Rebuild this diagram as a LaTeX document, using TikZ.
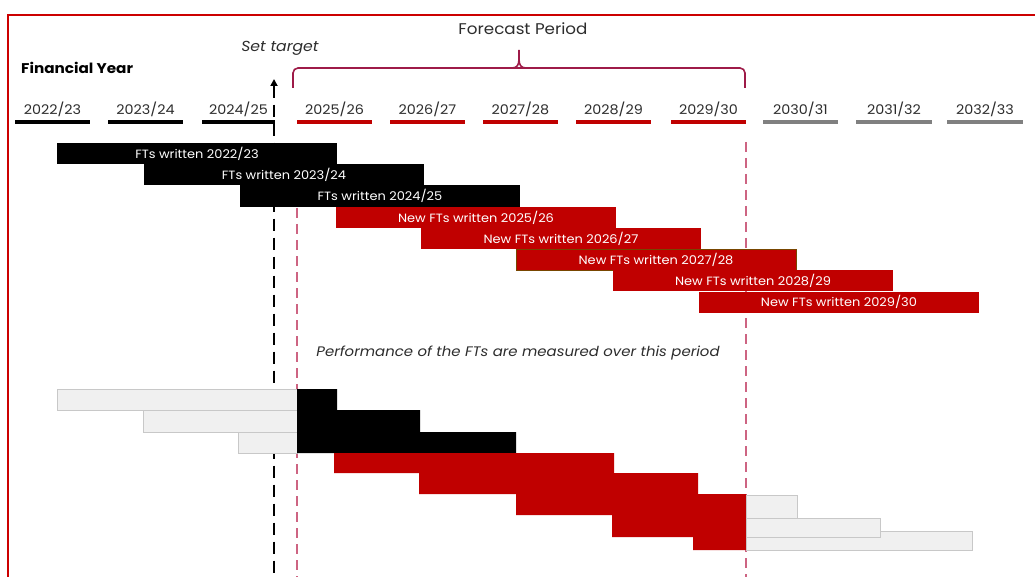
\documentclass[tikz,border=0pt]{standalone}
\usepackage{fontspec}
\setmainfont{Poppins}[FakeStretch=1.08]
\usetikzlibrary{arrows.meta}
\definecolor{ftred}{RGB}{192,0,0}
\definecolor{framered}{RGB}{204,0,0}
\definecolor{greyline}{RGB}{128,128,128}
\definecolor{ghostfill}{RGB}{240,240,240}
\definecolor{ghostdraw}{RGB}{200,200,200}
\definecolor{bracecol}{RGB}{158,27,72}
\definecolor{pinkdash}{RGB}{205,100,130}
\definecolor{textgrey}{RGB}{45,45,45}
\definecolor{olive}{RGB}{120,70,0}
\begin{document}
\begin{tikzpicture}[x=1pt,y=-1pt,
  yearlabel/.style={font=\fontsize{13.3}{15}\selectfont, text=textgrey, inner sep=0pt},
  yearline/.style={line width=4pt},
  bar/.style={anchor=north west, minimum width=280pt, minimum height=21.2pt, inner sep=0pt, outer sep=0pt, text=white, font=\fontsize{12}{13}\selectfont},
  oldbar/.style={bar, fill=black},
  newbar/.style={bar, fill=ftred},
  ghost/.style={fill=ghostfill, draw=ghostdraw, line width=1pt},
  setline/.style={line width=2.2pt, dash pattern=on 12pt off 7pt, {Triangle[width=7pt,length=7pt]}-},
  pinkline/.style={draw=pinkdash, line width=1.3pt, dash pattern=on 10pt off 6pt},
  titletext/.style={font=\fontsize{14}{16}\selectfont, text=textgrey, inner sep=0pt},
]
\useasboundingbox (0,0) rectangle (1035,577);
\fill[white] (0,0) rectangle (1035,577);
% frame
\draw[framered, line width=2pt] (8,580) -- (8,15) -- (1040,15);

% headings
\node[titletext, font=\fontsize{15.5}{17}\selectfont] (forecast) at (523,29) {Forecast Period};
\node[titletext, font=\fontsize{14.5}{16}\selectfont\itshape] (settarget) at (280,48) {Set target};
\node[titletext, font=\fontsize{14.1}{16}\selectfont\bfseries, text=black, anchor=west] (finyear) at (21,68) {Financial Year};

% brace
\draw[bracecol, line width=1.6pt, rounded corners=5pt] (293,88) -- (293,68) -- (745,68) -- (745,88);
\draw[bracecol, line width=1.6pt] (512,68) .. controls (517,68) and (519,65) .. (519,59) -- (519,50);
\draw[bracecol, line width=1.6pt] (526,68) .. controls (521,68) and (519,65) .. (519,59);

% year labels and lines
\foreach \lab/\a/\b/\col in {{2022/23}/15/90/black, {2023/24}/108/183/black, {2024/25}/202/275/black,
  {2025/26}/297/372/ftred, {2026/27}/390/465/ftred, {2027/28}/483/558/ftred, {2028/29}/576/651/ftred, {2029/30}/671/746/ftred,
  {2030/31}/763/838/greyline, {2031/32}/856/932/greyline, {2032/33}/947/1023/greyline}{
  \node[yearlabel] (yl\a) at ({(\a+\b)/2},109) {\lab};
  \draw[yearline, \col] (\a,122) -- (\b,122);
}

% vertical lines
\coordinate (settop) at (274,79);
\coordinate (setbot) at (274,580);
\draw[setline] (settop) -- (setbot);
\coordinate (fstarttop) at (297,208);
\coordinate (fstartbot) at (297,580);
\coordinate (fendtop) at (746,142);
\coordinate (fendbot) at (746,580);
\draw[pinkline] (fstarttop) -- (fstartbot);
\draw[pinkline] (fendtop) -- (fendbot);

% top bars
\node[oldbar] (b1) at (57,143) {FTs written 2022/23};
\node[oldbar] (b2) at (144,164) {FTs written 2023/24};
\node[oldbar] (b3) at (240,185.5) {FTs written 2024/25};
\node[newbar] (b4) at (336,207) {New FTs written 2025/26};
\node[newbar] (b5) at (421,228) {New FTs written 2026/27};
\node[newbar, draw=olive, line width=0.6pt] (b6) at (516,249.5) {New FTs written 2027/28};
\node[newbar] (b7) at (613,270) {New FTs written 2028/29};
\node[newbar] (b8) at (699,291.5) {New FTs written 2029/30};

% performance text
\node[titletext, font=\fontsize{13.8}{15}\selectfont\itshape] (perf) at (518,353) {Performance of the FTs are measured over this period};

% ghost bars left
\draw[ghost] (57,389) rectangle (297,410);
\draw[ghost] (143,410) rectangle (297,432);
\draw[ghost] (238,432) rectangle (297,453);
% black staircase
\fill[black] (297,389) -- (337,389) -- (337,410) -- (420,410) -- (420,432) -- (516,432) -- (516,453) -- (297,453) -- cycle;
% red staircase
\fill[ftred] (334,453) -- (614,453) -- (614,473) -- (698,473) -- (698,494) -- (746,494) -- (746,550) -- (693,550) -- (693,537) -- (612,537) -- (612,515) -- (516,515) -- (516,494) -- (419,494) -- (419,473) -- (334,473) -- cycle;
% ghost bars right
\draw[ghost] (746,531) rectangle (972,550);
\draw[ghost] (746,518) rectangle (880,537);
\draw[ghost] (746,495) rectangle (797,518);
\end{tikzpicture}
\end{document}
